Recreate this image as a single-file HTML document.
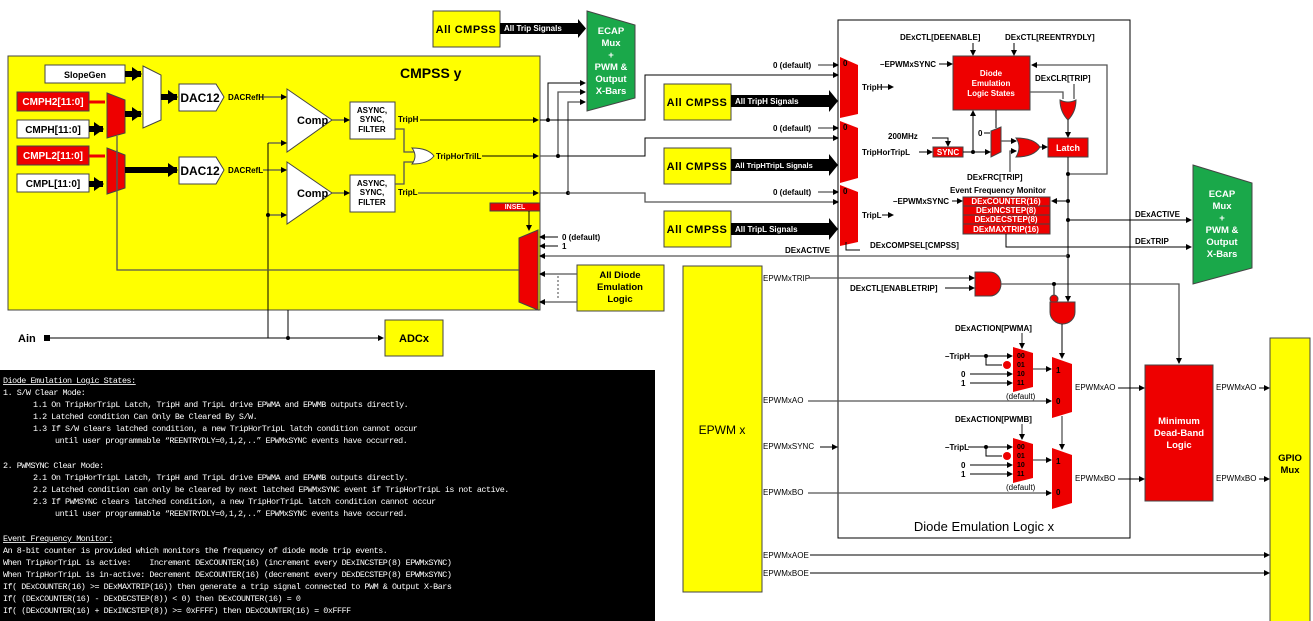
<!DOCTYPE html>
<html><head><meta charset="utf-8"><style>
html,body{margin:0;padding:0;background:#fff;width:1313px;height:621px;overflow:hidden}
svg{display:block}
text{font-family:"Liberation Sans",sans-serif;font-weight:bold}
.s{font-size:8px}
.m{font-size:11px}
.w{fill:#fff}
.mono text{font-family:"Liberation Mono",monospace;font-weight:normal;font-size:8.4px;fill:#fff;letter-spacing:-0.45px;white-space:pre}
.ln{stroke:#000;stroke-width:1;fill:none}
.gl{stroke:#555;stroke-width:1.3;fill:none}
.th{stroke:#000;stroke-width:6;fill:none}
</style></head><body>
<svg width="1313" height="621" viewBox="0 0 1313 621" xmlns="http://www.w3.org/2000/svg">
<defs>
<marker id="a" markerWidth="6" markerHeight="6" refX="5" refY="3" orient="auto" markerUnits="userSpaceOnUse"><path d="M0,0L6,3L0,6z" fill="#000"/></marker>
<marker id="b" markerWidth="10" markerHeight="14" refX="9" refY="7" orient="auto" markerUnits="userSpaceOnUse"><path d="M0,0L10,7L0,14z" fill="#000"/></marker>
</defs>

<!-- CMPSS y -->
<rect x="8" y="56" width="532" height="254" fill="#ff0" stroke="#444"/>
<text x="400" y="78" style="font-size:14px">CMPSS y</text>
<rect x="45" y="65" width="80" height="18" fill="#fff" stroke="#444"/><text x="85" y="78" class="s" text-anchor="middle" style="font-size:9px">SlopeGen</text>
<rect x="17" y="92" width="72" height="19" fill="#e00" stroke="#444"/><text x="53" y="105" class="m w" text-anchor="middle" style="font-size:10px">CMPH2[11:0]</text>
<rect x="17" y="120" width="72" height="18" fill="#fff" stroke="#444"/><text x="53" y="133" class="m" text-anchor="middle" style="font-size:10px">CMPH[11:0]</text>
<rect x="17" y="146" width="72" height="19" fill="#e00" stroke="#444"/><text x="53" y="159" class="m w" text-anchor="middle" style="font-size:10px">CMPL2[11:0]</text>
<rect x="17" y="174" width="72" height="18" fill="#fff" stroke="#444"/><text x="53" y="187" class="m" text-anchor="middle" style="font-size:10px">CMPL[11:0]</text>
<line x1="89" y1="102" x2="105" y2="102" stroke="#e00" stroke-width="3"/>
<line x1="89" y1="156" x2="105" y2="156" stroke="#e00" stroke-width="3"/>
<line x1="89" y1="129" x2="103" y2="129" class="th" marker-end="url(#b)"/>
<line x1="89" y1="184" x2="103" y2="184" class="th" marker-end="url(#b)"/>
<polygon points="107,93 125,100 125,133 107,138" fill="#e00" stroke="#444"/>
<polygon points="107,148 125,155 125,188 107,194" fill="#e00" stroke="#444"/>
<line x1="125" y1="74" x2="141" y2="74" class="th" marker-end="url(#b)"/>
<line x1="125" y1="114" x2="141" y2="114" class="th" marker-end="url(#b)"/>
<polygon points="143,66 161,75 161,120 143,128" fill="#fff" stroke="#444"/>
<line x1="161" y1="97" x2="177" y2="97" class="th" marker-end="url(#b)"/>
<line x1="125" y1="170" x2="177" y2="170" class="th" marker-end="url(#b)"/>
<polygon points="179,84 216,84 224,97 216,111 179,111" fill="#fff" stroke="#444"/><text x="200" y="102" class="m" text-anchor="middle" style="font-size:12px">DAC12</text>
<polygon points="179,157 216,157 224,170 216,184 179,184" fill="#fff" stroke="#444"/><text x="200" y="175" class="m" text-anchor="middle" style="font-size:12px">DAC12</text>
<text x="228" y="100" class="s">DACRefH</text><text x="228" y="173" class="s">DACRefL</text>
<line x1="263" y1="97" x2="286" y2="97" class="gl" marker-end="url(#a)"/>
<line x1="263" y1="170" x2="286" y2="170" class="gl" marker-end="url(#a)"/>
<polygon points="287,89 332,120 287,152" fill="#fff" stroke="#444"/><text x="297" y="124" class="m">Comp</text>
<polygon points="287,162 332,193 287,224" fill="#fff" stroke="#444"/><text x="297" y="197" class="m">Comp</text>
<line x1="268" y1="143" x2="286" y2="143" class="gl" marker-end="url(#a)"/>
<line x1="268" y1="215" x2="286" y2="215" class="gl" marker-end="url(#a)"/>
<line x1="268" y1="143" x2="268" y2="338" class="ln"/>
<circle cx="268" cy="215" r="2"/>
<line x1="332" y1="120" x2="349" y2="120" class="gl" marker-end="url(#a)"/>
<line x1="332" y1="193" x2="349" y2="193" class="gl" marker-end="url(#a)"/>
<rect x="350" y="102" width="45" height="37" fill="#fff" stroke="#444"/><text x="372" y="113" class="s" text-anchor="middle">ASYNC,</text><text x="372" y="122" class="s" text-anchor="middle">SYNC,</text><text x="372" y="132" class="s" text-anchor="middle">FILTER</text>
<rect x="350" y="175" width="45" height="37" fill="#fff" stroke="#444"/><text x="372" y="186" class="s" text-anchor="middle">ASYNC,</text><text x="372" y="195" class="s" text-anchor="middle">SYNC,</text><text x="372" y="205" class="s" text-anchor="middle">FILTER</text>
<path d="M395,129 H404 V152 H416 M395,184 H404 V162 H416" class="gl"/>
<path d="M412,148 Q428,148 434,156 Q428,164 412,164 Q418,156 412,148z" fill="#fff" stroke="#444"/>
<text x="398" y="122" class="s">TripH</text><text x="398" y="195" class="s">TripL</text><text x="436" y="159" class="s">TripHorTrilL</text>
<line x1="420" y1="120" x2="538" y2="120" class="ln" marker-end="url(#a)"/>
<line x1="482" y1="156" x2="538" y2="156" class="ln" marker-end="url(#a)"/>
<line x1="418" y1="193" x2="538" y2="193" class="gl" marker-end="url(#a)"/>
<rect x="490" y="203" width="50" height="8" fill="#e00" stroke="#444"/><text x="515" y="209" class="w" text-anchor="middle" style="font-size:7px">INSEL</text>
<line x1="529" y1="211" x2="529" y2="230" class="ln" marker-end="url(#a)"/>
<polygon points="519,238 538,230 538,310 519,302" fill="#e00" stroke="#444"/>
<path d="M519,270 H117 V136" class="gl"/>
<path d="M117,190 V150" class="gl"/>

<!-- Ain / ADC -->
<text x="18" y="342" class="m">Ain</text><rect x="44" y="335" width="6" height="6"/>
<line x1="50" y1="338" x2="383" y2="338" class="ln" marker-end="url(#a)"/><circle cx="288" cy="338" r="2"/>
<line x1="288" y1="310" x2="288" y2="338" class="ln"/>
<rect x="385" y="320" width="58" height="36" fill="#ff0" stroke="#444"/><text x="414" y="342" class="m" text-anchor="middle">ADCx</text>

<!-- top all cmpss & ecap -->
<rect x="433" y="11" width="67" height="36" fill="#ff0" stroke="#444"/><text x="466" y="33" class="m" text-anchor="middle" style="letter-spacing:0.5px">All CMPSS</text>
<rect x="500" y="23" width="78" height="11" fill="#000"/><polygon points="578,19 586,28.5 578,38" /><text x="504" y="31" class="w s">All Trip Signals</text>
<polygon points="587,11 635,25 635,98 587,111" fill="#1aa84a" stroke="#444"/>
<g text-anchor="middle" style="font-size:9.5px"><text x="611" y="34" class="w">ECAP</text><text x="611" y="46" class="w">Mux</text><text x="611" y="58" class="w">+</text><text x="611" y="70" class="w">PWM &amp;</text><text x="611" y="82" class="w">Output</text><text x="611" y="94" class="w">X-Bars</text></g>
<path d="M540,120 H548 V83 H585" class="ln" marker-end="url(#a)"/>
<path d="M540,156 H558 V92 H585" class="gl" marker-end="url(#a)"/>
<path d="M540,193 H568 V102 H585" class="gl" marker-end="url(#a)"/>
<circle cx="548" cy="120" r="2"/><circle cx="558" cy="156" r="2"/><circle cx="568" cy="193" r="2"/>
<path d="M548,120 H645 V75 H838" class="ln" marker-end="url(#a)"/>
<path d="M558,156 H645 V138 H838" class="ln" marker-end="url(#a)"/>
<path d="M568,193 H645 V202 H838" class="gl" marker-end="url(#a)"/>

<!-- right all cmpss -->
<g>
<rect x="664" y="84" width="67" height="36" fill="#ff0" stroke="#444"/><text x="697" y="106" class="m" text-anchor="middle" style="letter-spacing:0.5px">All CMPSS</text>
<rect x="731" y="95" width="98" height="12" fill="#000"/><polygon points="829,90 838,101 829,112"/><text x="735" y="104" class="w s">All TripH Signals</text>
<rect x="664" y="148" width="67" height="36" fill="#ff0" stroke="#444"/><text x="697" y="170" class="m" text-anchor="middle" style="letter-spacing:0.5px">All CMPSS</text>
<rect x="731" y="159" width="98" height="12" fill="#000"/><polygon points="829,154 838,165 829,176"/><text x="735" y="168" class="w s" style="font-size:7.5px">All TripHTripL Signals</text>
<rect x="664" y="211" width="67" height="36" fill="#ff0" stroke="#444"/><text x="697" y="233" class="m" text-anchor="middle" style="letter-spacing:0.5px">All CMPSS</text>
<rect x="731" y="223" width="98" height="12" fill="#000"/><polygon points="829,218 838,229 829,240"/><text x="735" y="232" class="w s">All TripL Signals</text>
</g>
<text x="773" y="68" class="s">0 (default)</text><line x1="818" y1="65" x2="838" y2="65" class="gl" marker-end="url(#a)"/>
<text x="773" y="131" class="s">0 (default)</text><line x1="818" y1="128" x2="838" y2="128" class="gl" marker-end="url(#a)"/>
<text x="773" y="195" class="s">0 (default)</text><line x1="818" y1="192" x2="838" y2="192" class="gl" marker-end="url(#a)"/>

<!-- Diode emulation box -->
<rect x="838" y="20" width="292" height="518" fill="none" stroke="#000"/>
<text x="984" y="531" text-anchor="middle" style="font-size:13px;font-weight:normal">Diode Emulation Logic x</text>
<polygon points="840,57 858,65 858,114 840,118" fill="#e00"/>
<polygon points="840,121 858,128 858,178 840,183" fill="#e00"/>
<polygon points="840,185 858,192 858,242 840,246" fill="#e00"/>
<text x="843" y="66" class="s">0</text><text x="843" y="130" class="s">0</text><text x="843" y="194" class="s">0</text>
<text x="862" y="90" class="s">TripH</text><line x1="882" y1="87" x2="893" y2="87" class="ln" marker-end="url(#a)"/>
<text x="862" y="155" class="s">TripHorTripL</text>
<text x="862" y="218" class="s">TripL</text><line x1="882" y1="215" x2="893" y2="215" class="ln" marker-end="url(#a)"/>
<path d="M846,242 V250 H860" class="ln"/>
<text x="870" y="248" class="s">DExCOMPSEL[CMPSS]</text>
<text x="900" y="40" class="s">DExCTL[DEENABLE]</text><text x="1005" y="40" class="s">DExCTL[REENTRYDLY]</text>
<line x1="973" y1="43" x2="973" y2="55" class="ln" marker-end="url(#a)"/>
<line x1="1014" y1="43" x2="1014" y2="55" class="ln" marker-end="url(#a)"/>
<text x="880" y="67" class="s">–EPWMxSYNC</text><line x1="939" y1="64" x2="952" y2="64" class="ln" marker-end="url(#a)"/>
<rect x="953" y="56" width="77" height="54" fill="#e00" stroke="#444"/>
<text x="991" y="76" class="w s" text-anchor="middle">Diode</text><text x="991" y="86" class="w s" text-anchor="middle">Emulation</text><text x="991" y="96" class="w s" text-anchor="middle">Logic States</text>
<text x="1035" y="81" class="s">DExCLR[TRIP]</text>
<path d="M1030,92 H1063 V99 M1074,84 V99" class="gl"/>
<path d="M1060,100 Q1068,104 1076,100 Q1076,112 1068,120 Q1060,112 1060,100z" fill="#e00" stroke="#444"/>
<line x1="1068" y1="120" x2="1068" y2="137" class="ln" marker-end="url(#a)"/>
<rect x="1048" y="138" width="40" height="19" fill="#e00" stroke="#444"/><text x="1068" y="151" class="w s" text-anchor="middle" style="font-size:9px">Latch</text>
<path d="M1068,157 V310" class="ln"/>
<path d="M1068,174 H1107 V65 H1032" class="gl" marker-end="url(#a)"/>
<circle cx="1068" cy="174" r="2"/><circle cx="1068" cy="201" r="2"/><circle cx="1068" cy="220" r="2"/><circle cx="1068" cy="256" r="2"/>
<text x="888" y="139" class="s">200MHz</text><path d="M932,138 H948 V146" class="ln" marker-end="url(#a)"/>
<line x1="919" y1="152" x2="932" y2="152" class="ln" marker-end="url(#a)"/>
<rect x="933" y="147" width="30" height="10" fill="#e00" stroke="#444"/><text x="948" y="155" class="w s" text-anchor="middle">SYNC</text>
<line x1="963" y1="152" x2="990" y2="152" class="ln" marker-end="url(#a)"/><circle cx="973" cy="152" r="2"/>
<line x1="973" y1="152" x2="973" y2="111" class="ln" marker-end="url(#a)"/>
<text x="978" y="136" class="s">0</text><line x1="984" y1="133" x2="990" y2="133" class="ln"/>
<path d="M996,110 V128" class="ln"/>
<polygon points="991,131 1001,127 1001,152 991,157" fill="#e00" stroke="#444"/>
<line x1="1001" y1="141" x2="1016" y2="141" class="gl" marker-end="url(#a)"/>
<path d="M1010,172 V151 H1016" class="gl" marker-end="url(#a)"/>
<path d="M1016,138 Q1034,138 1040,147 Q1034,157 1016,157 Q1022,147 1016,138z" fill="#e00" stroke="#444"/>
<line x1="1040" y1="147" x2="1047" y2="147" class="ln" marker-end="url(#a)"/>
<text x="967" y="180" class="s">DExFRC[TRIP]</text>
<text x="950" y="193" class="s">Event Frequency Monitor</text>
<text x="893" y="204" class="s">–EPWMxSYNC</text><line x1="952" y1="201" x2="962" y2="201" class="ln" marker-end="url(#a)"/>
<g>
<rect x="963" y="197" width="87" height="9" fill="#e00" stroke="#444"/><text x="1006" y="204" class="w s" text-anchor="middle">DExCOUNTER(16)</text>
<rect x="963" y="206" width="87" height="9" fill="#e00" stroke="#444"/><text x="1006" y="213" class="w s" text-anchor="middle">DExINCSTEP(8)</text>
<rect x="963" y="215" width="87" height="9" fill="#e00" stroke="#444"/><text x="1006" y="222" class="w s" text-anchor="middle">DExDECSTEP(8)</text>
<rect x="963" y="224" width="87" height="10" fill="#e00" stroke="#444"/><text x="1006" y="232" class="w s" text-anchor="middle">DExMAXTRIP(16)</text>
</g>
<line x1="1068" y1="201" x2="1052" y2="201" class="ln" marker-end="url(#a)"/>
<path d="M1068,220 H1191" class="ln" marker-end="url(#a)"/>
<path d="M1006,234 V247 H1191" class="ln" marker-end="url(#a)"/>
<text x="1135" y="217" class="s">DExACTIVE</text><text x="1135" y="244" class="s">DExTRIP</text>
<polygon points="1193,165 1252,183 1252,268 1193,284" fill="#1aa84a" stroke="#444"/>
<g text-anchor="middle" style="font-size:9.5px"><text x="1222" y="197" class="w">ECAP</text><text x="1222" y="209" class="w">Mux</text><text x="1222" y="221" class="w">+</text><text x="1222" y="233" class="w">PWM &amp;</text><text x="1222" y="245" class="w">Output</text><text x="1222" y="257" class="w">X-Bars</text></g>
<path d="M1068,256 H540" class="gl" marker-end="url(#a)"/>
<text x="785" y="253" class="s">DExACTIVE</text>
<text x="562" y="240" class="s">0 (default)</text><line x1="558" y1="237" x2="540" y2="237" class="ln" marker-end="url(#a)"/>
<text x="562" y="249" class="s">1</text><line x1="558" y1="246" x2="540" y2="246" class="ln" marker-end="url(#a)"/>
<rect x="577" y="265" width="87" height="46" fill="#ff0" stroke="#444"/>
<g text-anchor="middle" style="font-size:9.5px"><text x="620" y="278">All Diode</text><text x="620" y="290">Emulation</text><text x="620" y="302">Logic</text></g>
<line x1="577" y1="274" x2="540" y2="274" class="gl" marker-end="url(#a)"/>
<line x1="577" y1="302" x2="540" y2="302" class="gl" marker-end="url(#a)"/>
<line x1="558" y1="276" x2="558" y2="300" stroke="#444" stroke-dasharray="2,2"/>

<!-- EPWM x -->
<rect x="683" y="266" width="79" height="326" fill="#ff0" stroke="#444"/>
<text x="722" y="434" text-anchor="middle" style="font-size:12px;font-weight:normal">EPWM x</text>
<text x="763" y="281" class="s" style="font-weight:normal">EPWMxTRIP</text>
<path d="M808,278 H974" class="gl" marker-end="url(#a)"/>
<text x="850" y="291" class="s">DExCTL[ENABLETRIP]</text><line x1="945" y1="288" x2="974" y2="288" class="ln" marker-end="url(#a)"/>
<path d="M975,272 H990 A11,12 0 0 1 990,296 H975z" fill="#e00" stroke="#444"/>
<path d="M1001,284 H1179 V363" class="gl" marker-end="url(#a)"/>
<circle cx="1054" cy="284" r="2"/><line x1="1054" y1="284" x2="1054" y2="296" class="ln"/>
<circle cx="1054" cy="299" r="4" fill="#e00" stroke="#444"/>
<line x1="1068" y1="256" x2="1068" y2="301" class="ln" marker-end="url(#a)"/>
<path d="M1050,302 H1075 V312 A12.5,12 0 0 1 1050,312z" fill="#e00" stroke="#444"/>
<line x1="1062" y1="324" x2="1062" y2="358" class="ln" marker-end="url(#a)"/>

<text x="955" y="331" class="s">DExACTION[PWMA]</text><line x1="1022" y1="333" x2="1022" y2="348" class="gl" marker-end="url(#a)"/>
<polygon points="1013,347 1033,353 1033,387 1013,392" fill="#e00"/>
<g class="s" style="font-size:7px"><text x="1017" y="358">00</text><text x="1017" y="367">01</text><text x="1017" y="376">10</text><text x="1017" y="385">11</text></g>
<text x="945" y="359" class="s">–TripH</text>
<path d="M970,356 H1012" class="ln" marker-end="url(#a)"/><circle cx="986" cy="356" r="2"/>
<path d="M986,356 V365 H1002" class="ln"/><circle cx="1007" cy="365" r="4" fill="#e00"/>
<text x="961" y="377" class="s">0</text><line x1="970" y1="374" x2="1012" y2="374" class="ln" marker-end="url(#a)"/>
<text x="961" y="386" class="s">1</text><line x1="970" y1="383" x2="1012" y2="383" class="ln" marker-end="url(#a)"/>
<text x="1006" y="399" class="s" style="font-weight:normal">(default)</text>
<line x1="1033" y1="369" x2="1051" y2="369" class="gl" marker-end="url(#a)"/>
<polygon points="1052,357 1072,364 1072,412 1052,418" fill="#e00"/>
<text x="1056" y="373" class="s">1</text><text x="1056" y="404" class="s">0</text>
<text x="763" y="403" class="s" style="font-weight:normal">EPWMxAO</text>
<line x1="808" y1="401" x2="1051" y2="401" class="gl" marker-end="url(#a)"/>
<text x="1075" y="390" class="s" style="font-weight:normal">EPWMxAO</text><line x1="1118" y1="388" x2="1144" y2="388" class="ln" marker-end="url(#a)"/>
<line x1="1062" y1="416" x2="1062" y2="449" class="gl" marker-end="url(#a)"/>

<text x="955" y="422" class="s">DExACTION[PWMB]</text><line x1="1022" y1="424" x2="1022" y2="439" class="gl" marker-end="url(#a)"/>
<polygon points="1013,438 1033,444 1033,478 1013,483" fill="#e00"/>
<g class="s" style="font-size:7px"><text x="1017" y="449">00</text><text x="1017" y="458">01</text><text x="1017" y="467">10</text><text x="1017" y="476">11</text></g>
<text x="945" y="450" class="s">–TripL</text>
<path d="M968,447 H1012" class="ln" marker-end="url(#a)"/><circle cx="986" cy="447" r="2"/>
<path d="M986,447 V456 H1002" class="ln"/><circle cx="1007" cy="456" r="4" fill="#e00"/>
<text x="961" y="468" class="s">0</text><line x1="970" y1="465" x2="1012" y2="465" class="ln" marker-end="url(#a)"/>
<text x="961" y="477" class="s">1</text><line x1="970" y1="474" x2="1012" y2="474" class="ln" marker-end="url(#a)"/>
<text x="1006" y="490" class="s" style="font-weight:normal">(default)</text>
<line x1="1033" y1="460" x2="1051" y2="460" class="gl" marker-end="url(#a)"/>
<polygon points="1052,448 1072,455 1072,503 1052,509" fill="#e00"/>
<text x="1056" y="464" class="s">1</text><text x="1056" y="495" class="s">0</text>
<text x="763" y="449" class="s" style="font-weight:normal">EPWMxSYNC</text><line x1="820" y1="447" x2="837" y2="447" class="ln" marker-end="url(#a)"/>
<text x="763" y="495" class="s" style="font-weight:normal">EPWMxBO</text>
<line x1="808" y1="493" x2="1051" y2="493" class="gl" marker-end="url(#a)"/>
<text x="1075" y="481" class="s" style="font-weight:normal">EPWMxBO</text><line x1="1118" y1="479" x2="1144" y2="479" class="ln" marker-end="url(#a)"/>

<rect x="1145" y="365" width="68" height="136" fill="#e00" stroke="#444"/>
<g text-anchor="middle" style="font-size:9.5px"><text x="1179" y="424" class="w">Minimum</text><text x="1179" y="436" class="w">Dead-Band</text><text x="1179" y="448" class="w">Logic</text></g>
<text x="1216" y="390" class="s" style="font-weight:normal">EPWMxAO</text><line x1="1259" y1="388" x2="1269" y2="388" class="ln" marker-end="url(#a)"/>
<text x="1216" y="481" class="s" style="font-weight:normal">EPWMxBO</text><line x1="1259" y1="479" x2="1269" y2="479" class="ln" marker-end="url(#a)"/>
<rect x="1270" y="338" width="40" height="290" fill="#ff0" stroke="#444"/>
<text x="1290" y="461" text-anchor="middle" style="font-size:9.5px">GPIO</text><text x="1290" y="473" text-anchor="middle" style="font-size:9.5px">Mux</text>
<text x="763" y="558" class="s" style="font-weight:normal">EPWMxAOE</text><line x1="810" y1="555" x2="1269" y2="555" class="ln" marker-end="url(#a)"/>
<text x="763" y="576" class="s" style="font-weight:normal">EPWMxBOE</text><line x1="810" y1="573" x2="1269" y2="573" class="ln" marker-end="url(#a)"/>

<!-- black notes -->
<rect x="0" y="370" width="655" height="251" fill="#000"/>
<g class="mono">
<text x="3" y="383" text-decoration="underline">Diode Emulation Logic States:</text>
<text x="3" y="395">1. S/W Clear Mode:</text>
<text x="33" y="407">1.1 On TripHorTripL Latch, TripH and TripL drive EPWMA and EPWMB outputs directly.</text>
<text x="33" y="419">1.2 Latched condition Can Only Be Cleared By S/W.</text>
<text x="33" y="431">1.3 If S/W clears latched condition, a new TripHorTripL latch condition cannot occur</text>
<text x="55" y="443">until user programmable “REENTRYDLY=0,1,2,..” EPWMxSYNC events have occurred.</text>
<text x="3" y="468">2. PWMSYNC Clear Mode:</text>
<text x="33" y="480">2.1 On TripHorTripL Latch, TripH and TripL drive EPWMA and EPWMB outputs directly.</text>
<text x="33" y="492">2.2 Latched condition can only be cleared by next latched EPWMxSYNC event if TripHorTripL is not active.</text>
<text x="33" y="504">2.3 If PWMSYNC clears latched condition, a new TripHorTripL latch condition cannot occur</text>
<text x="55" y="516">until user programmable “REENTRYDLY=0,1,2,..” EPWMxSYNC events have occurred.</text>
<text x="3" y="541" text-decoration="underline">Event Frequency Monitor:</text>
<text x="3" y="553">An 8-bit counter is provided which monitors the frequency of diode mode trip events.</text>
<text x="3" y="565">When TripHorTripL is active:    Increment DExCOUNTER(16) (increment every DExINCSTEP(8) EPWMxSYNC)</text>
<text x="3" y="577">When TripHorTripL is in-active: Decrement DExCOUNTER(16) (decrement every DExDECSTEP(8) EPWMxSYNC)</text>
<text x="3" y="589">If( DExCOUNTER(16) &gt;= DExMAXTRIP(16)) then generate a trip signal connected to PWM &amp; Output X-Bars</text>
<text x="3" y="601">If( (DExCOUNTER(16) - DExDECSTEP(8)) &lt; 0) then DExCOUNTER(16) = 0</text>
<text x="3" y="613">If( (DExCOUNTER(16) + DExINCSTEP(8)) &gt;= 0xFFFF) then DExCOUNTER(16) = 0xFFFF</text>
</g>
</svg>
</body></html>
